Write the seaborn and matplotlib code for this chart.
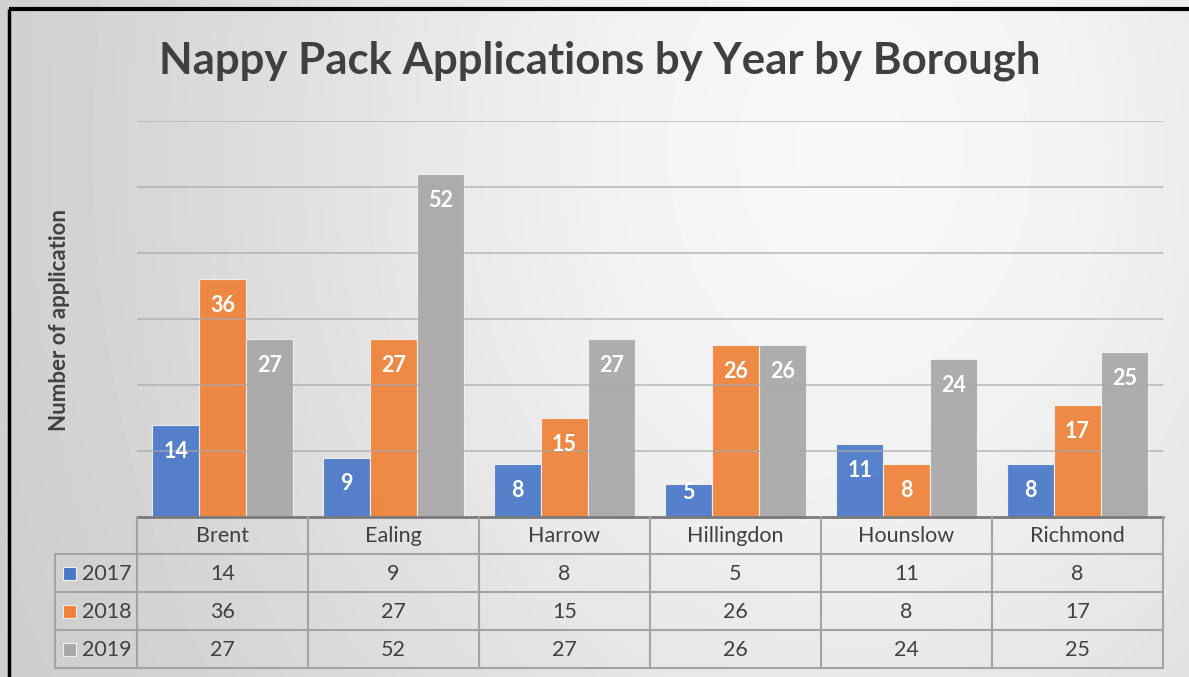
import numpy as np
import pandas as pd
import matplotlib.pyplot as plt
import seaborn as sns

boroughs = ['Brent', 'Ealing', 'Harrow', 'Hillingdon', 'Hounslow', 'Richmond']
years = ['2017', '2018', '2019']
apps_2017 = [14, 9, 8, 5, 11, 8]
apps_2018 = [36, 27, 15, 26, 8, 17]
apps_2019 = [27, 52, 27, 26, 24, 25]
colors = ['#4a78c8', '#ee8238', '#a8a8a8']

series = [apps_2017, apps_2018, apps_2019]
df = pd.DataFrame({
    'borough': boroughs * 3,
    'year': [y for y in years for _ in boroughs],
    'value': apps_2017 + apps_2018 + apps_2019,
})

sns.set_theme(style='white')
plt.rcParams['font.family'] = ['Lato', 'DejaVu Sans']

W, H = 1189, 677
fig = plt.figure(figsize=(W / 100, H / 100), dpi=100)

# background: soft grey gradient, lightest near the top right
bg = fig.add_axes([0, 0, 1, 1], zorder=-2)
yy, xx = np.mgrid[0:H, 0:W]
d2 = ((xx - 850) / 700.0) ** 2 + ((yy - 150) / 900.0) ** 2
shade = 0.77 + 0.20 * np.exp(-d2)
bg.imshow(shade, cmap='gray', vmin=0, vmax=1, extent=[0, W, H, 0], aspect='auto')
bg.set_xlim(0, W)
bg.set_ylim(H, 0)
bg.axis('off')

# plot area in pixel terms
x0, x1, ybase, ytop = 137, 1163, 517, 121
ax = fig.add_axes([x0 / W, (H - ybase) / H, (x1 - x0) / W, (ybase - ytop) / H])
ax.set_facecolor('none')
sns.barplot(data=df, x='borough', y='value', hue='year', palette=colors,
            hue_order=years, width=0.82, saturation=1, alpha=0.93,
            edgecolor='#f2f2f2', linewidth=0.8, legend=False, ax=ax, zorder=2)
ax.set_ylim(0, 60)
ax.set_xlim(-0.5, len(boroughs) - 0.5)
ax.set_yticks(np.arange(10, 61, 10))
ax.yaxis.grid(True, color='#a9a9a9', linewidth=1.2, alpha=0.75, zorder=3)
ax.set_axisbelow(False)
ax.set_yticklabels([])
ax.set_xticklabels([])
ax.tick_params(length=0)
ax.set_xlabel('')
ax.set_ylabel('')
for s in ['left', 'right', 'top']:
    ax.spines[s].set_visible(False)
ax.spines['bottom'].set_color('#7a7a7a')
ax.spines['bottom'].set_linewidth(2)

for cont, vals in zip(ax.containers, series):
    for bar, v in zip(cont, vals):
        ty = v - 4 if v >= 8 else v - 1.3
        ax.text(bar.get_x() + bar.get_width() / 2, ty, str(v), ha='center',
                va='center', color='white', fontsize=15.5, fontweight='bold', zorder=4)

# overlay for title, axis label, frame and data table
ov = fig.add_axes([0, 0, 1, 1], zorder=5)
ov.set_xlim(0, W)
ov.set_ylim(H, 0)
ov.axis('off')
ov.patch.set_alpha(0)

ov.text(600, 61, 'Nappy Pack Applications by Year by Borough', ha='center', va='center',
        fontsize=31.5, fontweight='bold', color='#404040')
ov.text(59, 320, 'Number of application', rotation=90, ha='center', va='center',
        fontsize=16, fontweight='bold', color='#404040')

# black frame on top and left
ov.plot([8.5, W], [8.5, 8.5], color='black', lw=3, solid_capstyle='butt')
ov.plot([8.5, 8.5], [8.5, H], color='black', lw=2.5, solid_capstyle='butt')

# data table
cw = (x1 - x0) / len(boroughs)
rows = [517, 554, 592, 630, 668]
lc = '#a3a3a3'
for r in rows[1:]:
    ov.plot([55, x1], [r, r], color=lc, lw=1.5)
ov.plot([55, 55], [rows[1], rows[-1]], color=lc, lw=1.5)
for i in range(len(boroughs) + 1):
    ov.plot([x0 + i * cw, x0 + i * cw], [rows[0], rows[-1]], color=lc, lw=1.5)

tfs = 15.5
for i, b in enumerate(boroughs):
    cx = x0 + (i + 0.5) * cw
    ov.text(cx, (rows[0] + rows[1]) / 2 + 1, b, ha='center', va='center',
            fontsize=tfs, color='#404040')
    for j, vals in enumerate(series):
        ov.text(cx, (rows[j + 1] + rows[j + 2]) / 2 + 1, str(vals[i]), ha='center',
                va='center', fontsize=tfs, color='#404040')

for j, (yr, col) in enumerate(zip(years, colors)):
    cy = (rows[j + 1] + rows[j + 2]) / 2
    ov.add_patch(plt.Rectangle((63, cy - 6.5), 13, 13, facecolor=col, edgecolor='#f0f0f0', lw=0.8))
    ov.text(82, cy + 1, yr, ha='left', va='center', fontsize=tfs, color='#404040')

fig.savefig('out.png', dpi=100)
